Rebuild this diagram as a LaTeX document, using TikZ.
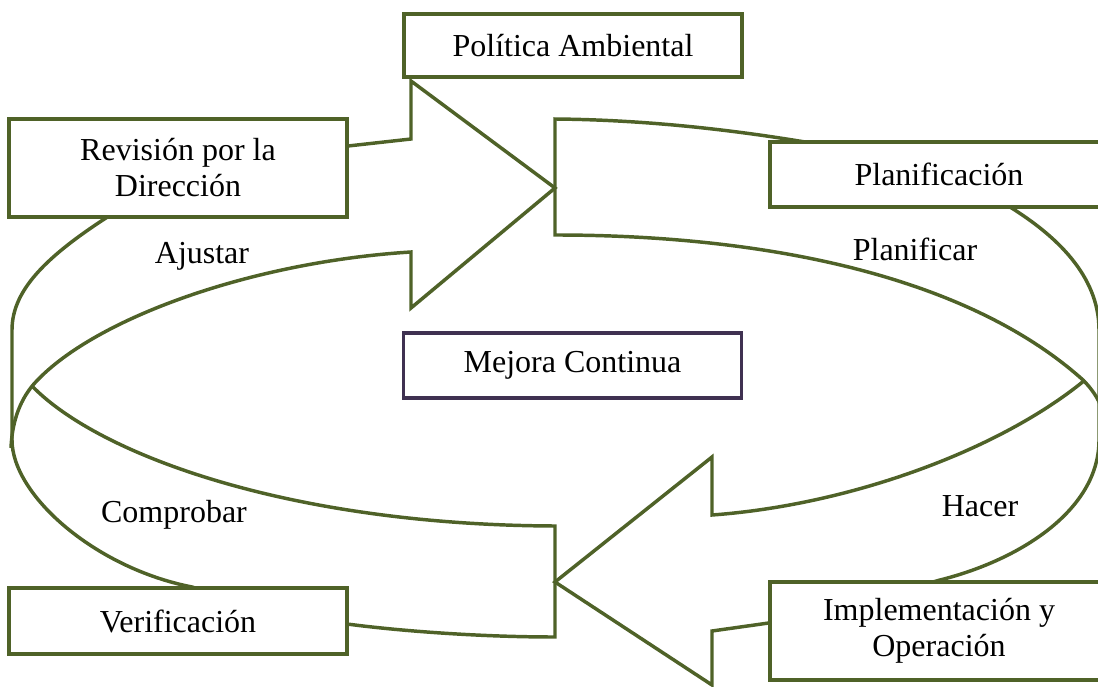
\documentclass[tikz,border=0pt]{standalone}
\usepackage{fontspec}
\setmainfont{Liberation Serif}

\definecolor{oliveLine}{HTML}{4F6228}
\definecolor{plumLine}{HTML}{3F3151}

\begin{document}
\begin{tikzpicture}[x=0.375pt,y=-0.375pt,
    arrowBand/.style={draw=oliveLine,line width=1.3pt,line join=miter},
    stageBox/.style={draw=oliveLine,line width=1.3pt,fill=white,
      minimum width=126.75pt,inner sep=0pt,align=center,
      font=\fontsize{12}{13.5}\selectfont},
    stageText/.style={font=\fontsize{12}{13.5}\selectfont}]
    \useasboundingbox (0,0) rectangle (1098,687);

    % Draw outer edge of the left band
    \draw[arrowBand] (125,206) .. controls (50,252) and (12,288) .. (12,330)
      -- (12,440) .. controls (12,495) and (95,568) .. (192,587) -- (215,594);

    % Draw Ajustar band with its head pointing right
    \draw[arrowBand] (11,448) .. controls (12,425) and (18,403) .. (33,385)
      .. controls (90,320) and (250,262) .. (411,252)
      -- (411,308) -- (555,188) -- (411,81) -- (411,139) -- (330,148);

    % Draw Comprobar band with its flat tail
    \draw[arrowBand] (33,387) .. controls (100,455) and (290,525) .. (555,526)
      -- (555,637) .. controls (480,637) and (400,631) .. (347,624) -- (320,620);

    % Draw Planificar band with its flat tail
    \draw[arrowBand] (850,150) .. controls (760,133) and (660,120) .. (555,119)
      -- (555,235) .. controls (763,235) and (966,275) .. (1083,380)
      .. controls (1090,387) and (1096,395) .. (1100,404);

    % Draw outer edge of the right band
    \draw[arrowBand] (990,195) -- (1010,207) .. controls (1055,235) and (1099,275) .. (1099,330)
      -- (1099,440) .. controls (1099,510) and (1020,560) .. (940,580) -- (905,590);

    % Draw Hacer band with its head pointing left
    \draw[arrowBand] (1085,380) .. controls (1000,450) and (850,505) .. (712,515)
      -- (712,457) -- (555,582) -- (712,685) -- (712,631) -- (790,620);

    % Stage boxes
    \node[stageBox,minimum height=23.6pt] (politica) at (573,45.5) {Política Ambiental};
    \node[stageBox,minimum height=36.75pt] (revision) at (178,168) {Revisión por la\\Dirección};
    \node[stageBox,minimum height=24.4pt] (planificacion) at (939,174.5) {Planificación};
    \node[stageBox,draw=plumLine,minimum height=24.4pt] (mejora) at (572.5,365.5) {Mejora Continua};
    \node[stageBox,minimum height=24.75pt] (verificacion) at (178,621) {Verificación};
    \node[stageBox,minimum height=36.75pt] (implementacion) at (939,631) {Implementación y\\Operación};

    % Labels on the bands
    \node[stageText] (ajustar) at (202,256) {Ajustar};
    \node[stageText] (planificar) at (915,249) {Planificar};
    \node[stageText] (comprobar) at (174,515) {Comprobar};
    \node[stageText] (hacer) at (980,506) {Hacer};
\end{tikzpicture}
\end{document}
